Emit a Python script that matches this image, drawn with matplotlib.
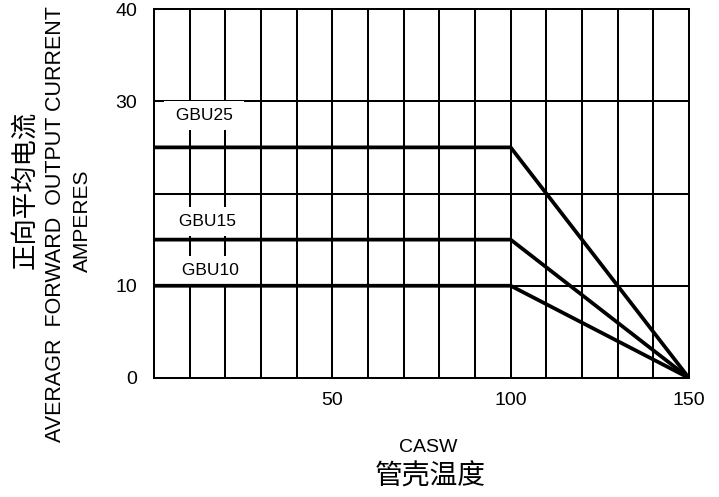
import matplotlib.pyplot as plt

plt.rcParams['font.family'] = ['Liberation Sans', 'Noto Sans CJK SC', 'DejaVu Sans']

# derating curves: flat up to the knee, then straight down to zero
knee_temp = 100
max_temp = 150
series_names = ['GBU25', 'GBU15', 'GBU10']
series_current = [25, 15, 10]
label_x = [14.0, 15.1, 15.7]
label_y = [28.5, 17.0, 11.7]

xticks = [50, 100, 150]
yticks = [0, 10, 30, 40]

fig = plt.figure(figsize=(7.19, 4.97), dpi=100)
ax = fig.add_axes([154 / 719, 1 - 378 / 497, 535 / 719, 369 / 497])
ax.set_xlim(0, 150)
ax.set_ylim(0, 40)

# grid
for gx in range(10, 150, 10):
    ax.axvline(gx, color='k', lw=1.45, zorder=1)
for gy in [10, 20, 30]:
    ax.axhline(gy, color='k', lw=1.45, zorder=1)

for name, cur, tx, ty in zip(series_names, series_current, label_x, label_y):
    ax.plot([0, knee_temp, max_temp], [cur, cur, 0], color='k', lw=2.7,
            zorder=3, solid_capstyle='butt')
    # white box hides the grid but stays under the curves
    ax.text(tx, ty, ' ' + name + ' ', fontsize=12.5, ha='center', va='center',
            zorder=2, bbox=dict(facecolor='white', edgecolor='none',
                                boxstyle='square,pad=0.4'))

for s in ax.spines.values():
    s.set_linewidth(1.45)

ax.set_xticks(xticks)
ax.set_yticks(yticks)
ax.tick_params(length=0, labelsize=14)
ax.tick_params(axis='x', pad=10)
ax.tick_params(axis='y', pad=12)

fig.text(24.5 / 719, 1 - 190 / 497, '正向平均电流', rotation=90, fontsize=19,
         ha='center', va='center')
fig.text(56 / 719, 1 - 224 / 497, 'AVERAGR  FORWARD  OUTPUT CURRENT',
         rotation=90, fontsize=15.5, ha='center', va='center')
fig.text(82 / 719, 1 - 221 / 497, 'AMPERES', rotation=90, fontsize=15,
         ha='center', va='center')

fig.text(428 / 719, 1 - 448 / 497, 'CASW', fontsize=14, ha='center', va='center')
fig.text(430 / 719, 1 - 477 / 497, '管壳温度', fontsize=20, ha='center',
         va='center')

fig.savefig('out.png', dpi=100)
